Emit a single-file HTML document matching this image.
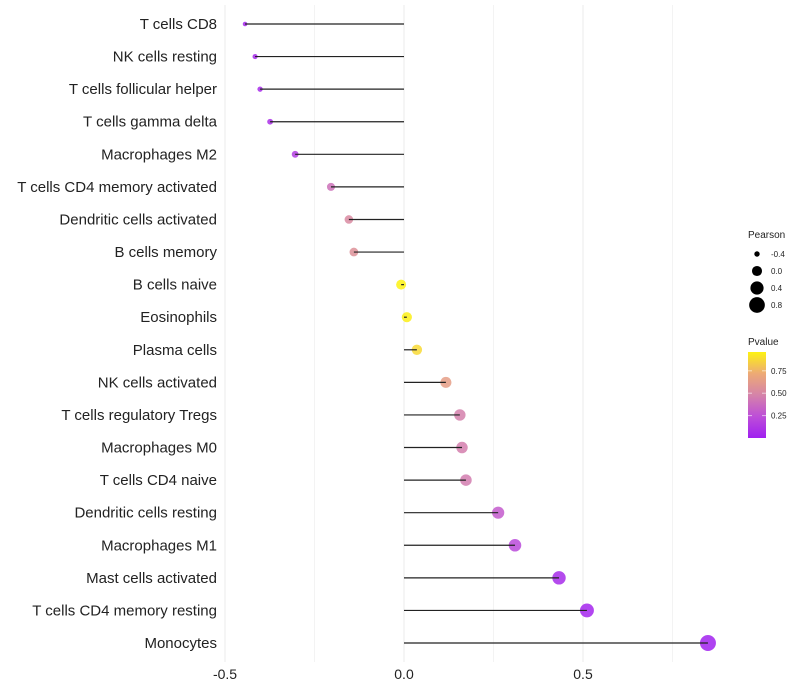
<!DOCTYPE html>
<html><head><meta charset="utf-8"><style>
body{margin:0;background:#fff;font-family:"Liberation Sans",sans-serif}
</style></head><body>
<svg id="c" width="800" height="700" style="display:block"></svg>
<script>
const categories=["T cells CD8","NK cells resting","T cells follicular helper","T cells gamma delta","Macrophages M2","T cells CD4 memory activated","Dendritic cells activated","B cells memory","B cells naive","Eosinophils","Plasma cells","NK cells activated","T cells regulatory  Tregs ","Macrophages M0","T cells CD4 naive","Dendritic cells resting","Macrophages M1","Mast cells activated","T cells CD4 memory resting","Monocytes"];
const pearson=[-0.444,-0.416,-0.402,-0.374,-0.304,-0.204,-0.154,-0.140,-0.008,0.008,0.036,0.117,0.156,0.162,0.173,0.263,0.310,0.433,0.511,0.849];
const pvalue=[0.04,0.05,0.06,0.08,0.15,0.4,0.52,0.56,0.96,0.95,0.88,0.64,0.47,0.46,0.45,0.3,0.22,0.06,0.03,0.01];
const xTicks=[-0.5,0,0.5];
const xTickLabels=["-0.5","0.0","0.5"];
const gridMinor=[-0.25,0.25,0.75];
const sizeLegend=[-0.4,0.0,0.4,0.8];
const pTicks=[0.25,0.5,0.75];
const NS="http://www.w3.org/2000/svg";
const svg=document.getElementById('c');
function el(t,a,p){const e=document.createElementNS(NS,t);for(const k in a)e.setAttribute(k,a[k]);(p||svg).appendChild(e);return e;}
const x=v=>404+v*358;
const y=i=>24+i*(643-24)/19;
const rad=v=>Math.sqrt(Math.max(0,6+(v+0.4)*37.5))*1.1;
const stops=[[0,[160,32,240]],[0.25,[190,80,215]],[0.5,[215,135,165]],[0.75,[240,175,110]],[1,[255,255,0]]];
function col(p){let k=0;while(k<stops.length-2&&p>stops[k+1][0])k++;const a=stops[k],b=stops[k+1];const t=Math.min(1,Math.max(0,(p-a[0])/(b[0]-a[0])));const c=a[1].map((v,j)=>Math.round(v+(b[1][j]-v)*t));return `rgb(${c})`;}
[...xTicks,...gridMinor].forEach(v=>{const g=el('line',{x1:x(v),x2:x(v),y1:5,y2:662,stroke:'#ebebeb','stroke-width':v%0.5===0?1:0.6});

});
xTicks.forEach((v,i)=>{const t=el('text',{x:x(v),y:679,'text-anchor':'middle','font-size':14,fill:'#222'});t.textContent=xTickLabels[i];

});
categories.forEach((c,i)=>{
const t=el('text',{x:217,y:y(i)+5,'text-anchor':'end','font-size':15,fill:'#222'});t.textContent=c;


const d=el('circle',{cx:x(pearson[i]),cy:y(i),r:rad(pearson[i]),fill:col(pvalue[i]),'fill-opacity':0.85});


const l=el('line',{x1:x(0),x2:x(pearson[i]),y1:y(i),y2:y(i),stroke:'#222','stroke-width':1.2});


});
let tt=el('text',{x:748,y:238,'font-size':10,fill:'#222'});tt.textContent='Pearson';


sizeLegend.forEach((v,i)=>{const cy=254+i*17;
const c=el('circle',{cx:757,cy:cy,r:rad(v),fill:'#000'});


const t=el('text',{x:771,y:cy+3,'font-size':8,fill:'#222'});t.textContent=v.toFixed(1);

});
tt=el('text',{x:748,y:345,'font-size':10,fill:'#222'});tt.textContent='Pvalue';


const defs=el('defs',{});const lg=el('linearGradient',{id:'g',x1:0,y1:1,x2:0,y2:0},defs);
[0,0.25,0.5,0.75,1].forEach(o=>el('stop',{offset:o,'stop-color':col(o*0.96)},lg));
const bar=el('rect',{x:748,y:352,width:18,height:86,fill:'url(#g)'});


pTicks.forEach(p=>{const yy=438-p/0.96*86;
el('line',{x1:748,x2:752,y1:yy,y2:yy,stroke:'#fff','stroke-opacity':0.6});el('line',{x1:762,x2:766,y1:yy,y2:yy,stroke:'#fff','stroke-opacity':0.6});
const t=el('text',{x:771,y:yy+3,'font-size':8,fill:'#222'});t.textContent=p.toFixed(2);

});
</script>
</body></html>
